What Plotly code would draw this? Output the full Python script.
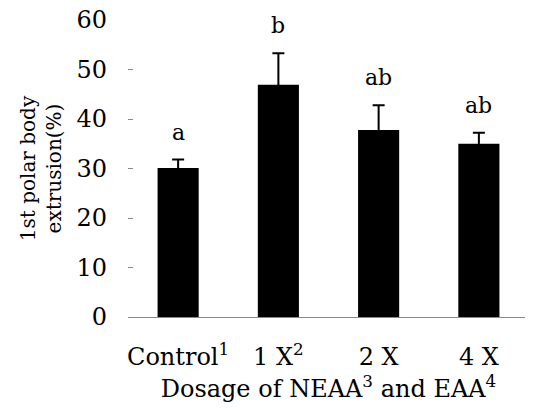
import plotly.graph_objects as go

categories = ["Control<sup>1</sup>", "1 X<sup>2</sup>", "2 X", "4 X"]
means = [30.1, 46.9, 37.8, 35.0]
errors = [1.7, 6.4, 5.0, 2.2]
letters = ["a", "b", "ab", "ab"]
y_ticks = [0, 10, 20, 30, 40, 50, 60]

FONT = "DejaVu Serif"
FS = 24

fig = go.Figure()
fig.add_trace(go.Bar(
    x=categories, y=means,
    marker=dict(color="black", line=dict(width=0)),
    width=0.41,
    error_y=dict(type="data", array=errors, visible=True, color="black",
                 thickness=2, width=6),
))

for c, m, e, l in zip(categories, means, errors, letters):
    fig.add_annotation(x=c, y=m + e, text=l, showarrow=False,
                       yanchor="bottom", yshift=13,
                       font=dict(family=FONT, size=22, color="black"))

# page body has an 8px default margin; margins compensate for it
fig.update_layout(
    width=533, height=416,
    margin=dict(l=120, r=12, t=12, b=107, autoexpand=False),
    plot_bgcolor="white", paper_bgcolor="white",
    showlegend=False,
    font=dict(family=FONT, size=FS, color="black"),
    xaxis=dict(
        range=[-0.5, 3.5], automargin=False,
        showline=True, linecolor="#888888", linewidth=1,
        ticks="", showgrid=False, zeroline=False,
        ticklabelstandoff=18, ticklabeloverflow="allow",
        tickfont=dict(family=FONT, size=FS),
        title=dict(text="Dosage of NEAA<sup>3</sup> and EAA<sup>4</sup>",
                   font=dict(family=FONT, size=FS), standoff=10),
    ),
    yaxis=dict(
        range=[0, 60], automargin=False,
        tickvals=y_ticks,
        showline=False, showgrid=False, zeroline=False,
        ticks="inside", ticklen=5, tickcolor="#888888",
        ticklabelstandoff=20, ticklabeloverflow="allow",
        tickfont=dict(family=FONT, size=FS),
        title=dict(text="1st polar body<br>extrusion(%)",
                   font=dict(family=FONT, size=20), standoff=9),
    ),
)

fig.write_html("out.html")
